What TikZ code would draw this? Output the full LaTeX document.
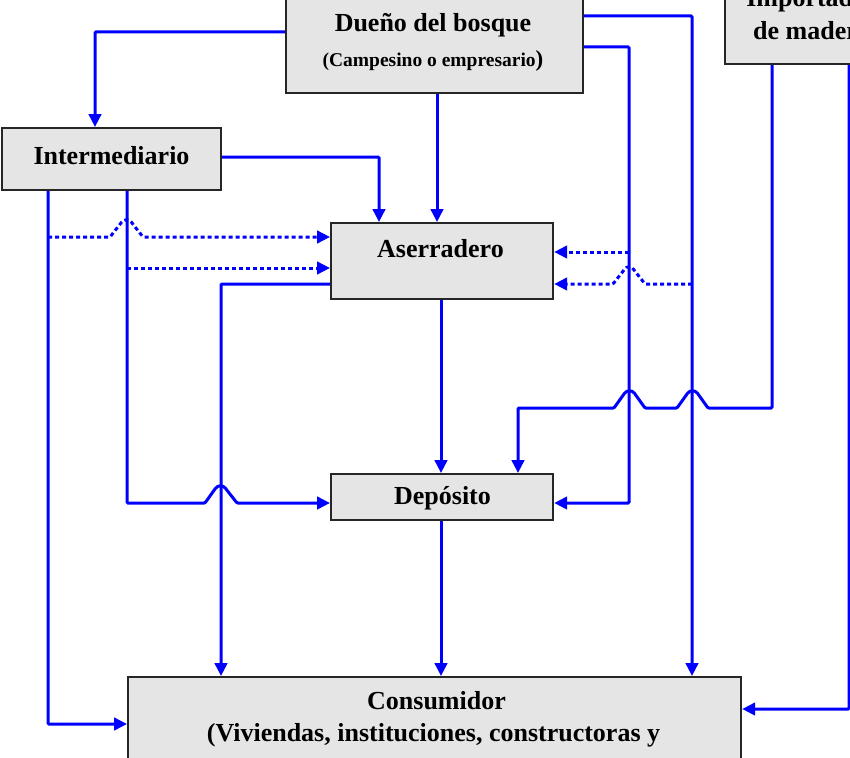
\documentclass[tikz,border=0pt]{standalone}
\usepackage{fontspec}
\setmainfont{Liberation Serif}
\usetikzlibrary{arrows.meta}
\definecolor{lineblue}{RGB}{0,0,255}
\definecolor{boxfill}{RGB}{229,229,229}
\tikzset{
  box/.style={draw=black!85, line width=2.2pt, fill=boxfill, inner sep=0pt, anchor=north west},
  lbl/.style={font=\bfseries\fontsize{26}{30}\selectfont, anchor=base, inner sep=0pt},
  small/.style={font=\bfseries\fontsize{19.5}{24}\selectfont, anchor=base, inner sep=0pt},
  conn/.style={draw=lineblue, line width=3pt, rounded corners=1pt, -{Triangle[length=13pt,width=12.5pt]}},
  dconn/.style={conn, dash pattern=on 4pt off 3pt},
}
\begin{document}
\begin{tikzpicture}[x=1pt,y=-1pt]
\path[use as bounding box] (0,0) rectangle (850,757);
\clip (0,0) rectangle (850,757);

% boxes
\node[box, minimum width=297pt, minimum height=94pt] (dueno) at (285,-2) {};
\node[box, minimum width=180pt, minimum height=103pt] (imp) at (724,-40) {};
\node[box, minimum width=219pt, minimum height=62pt] (inter) at (1,127) {};
\node[box, minimum width=222pt, minimum height=76pt] (aser) at (330,222) {};
\node[box, minimum width=222pt, minimum height=46pt] (depo) at (330,473) {};
\node[box, minimum width=613pt, minimum height=90pt] (cons) at (127,676) {};

% texts
\node[lbl] (t1) at (433,32) {Dueño del bosque};
\node[small] (t2) at (433,67) {(Campesino o empresario{\fontsize{23}{24}\selectfont)}};
\node[lbl] (t3) at (812,7) {Importador};
\node[lbl] (t4) at (812,40) {de madera};
\node[lbl] (t5) at (111.5,164) {Intermediario};
\node[lbl] (t6) at (440.5,257) {Aserradero};
\node[lbl] (t7) at (442.5,504) {Depósito};
\node[lbl] (t8) at (436.5,709) {Consumidor};
\node[lbl] (t9) at (433.5,741) {(Viviendas, instituciones, constructoras y};

% free ends on other lines
\coordinate (d13) at (48,237);
\coordinate (d14) at (127,268);
\coordinate (d15) at (629,252);
\coordinate (d16) at (692,284);

% solid connectors
\draw[conn] (dueno.west |- 0,32) -| (inter.north -| 95,0);
\draw[conn] (dueno.south -| 437,0) -- (aser.north -| 437,0);
\draw[conn] (inter.east |- 0,157) -| (aser.north -| 379,0);
\draw[conn] (dueno.east |- 0,16) -| (cons.north -| 692,0);
\draw[conn] (dueno.east |- 0,47) -| (629,503) -- (depo.east |- 0,503);
\draw[conn] (imp.south -| 772,0) -- (772,408) -- (708,408) -- (698,394)
  .. controls (695,390) and (690,390) .. (687,394) -- (677,408)
  -- (645,408) -- (635,394) .. controls (632,390) and (627,390) .. (624,394)
  -- (614,408) -- (518,408) -- (depo.north -| 518,0);
\draw[conn] (imp.south -| 849,0) |- (cons.east |- 0,709);
\draw[conn] (inter.south -| 48,0) |- (cons.west |- 0,724);
\draw[conn] (inter.south -| 127,0) -- (127,503) -- (205,503) -- (215,489)
  .. controls (218,485) and (223,485) .. (226,489) -- (237,503) -- (depo.west |- 0,503);
\draw[conn] (aser.west |- 0,284) -| (cons.north -| 221,0);
\draw[conn] (aser.south -| 441,0) -- (depo.north -| 441,0);
\draw[conn] (depo.south -| 441,0) -- (cons.north -| 441,0);

% dotted connectors
\draw[dconn] (d13) -- (110,237) -- (121,223) .. controls (124,219) and (129,219) .. (132,223)
  -- (143,237) -- (aser.west |- 0,237);
\draw[dconn] (d14) -- (aser.west |- 0,268);
\draw[dconn] (d15) -- (aser.east |- 0,252);
\draw[dconn] (d16) -- (645,284) -- (634,270) .. controls (631,266) and (627,266) .. (624,270)
  -- (613,284) -- (aser.east |- 0,284);
\end{tikzpicture}
\end{document}
